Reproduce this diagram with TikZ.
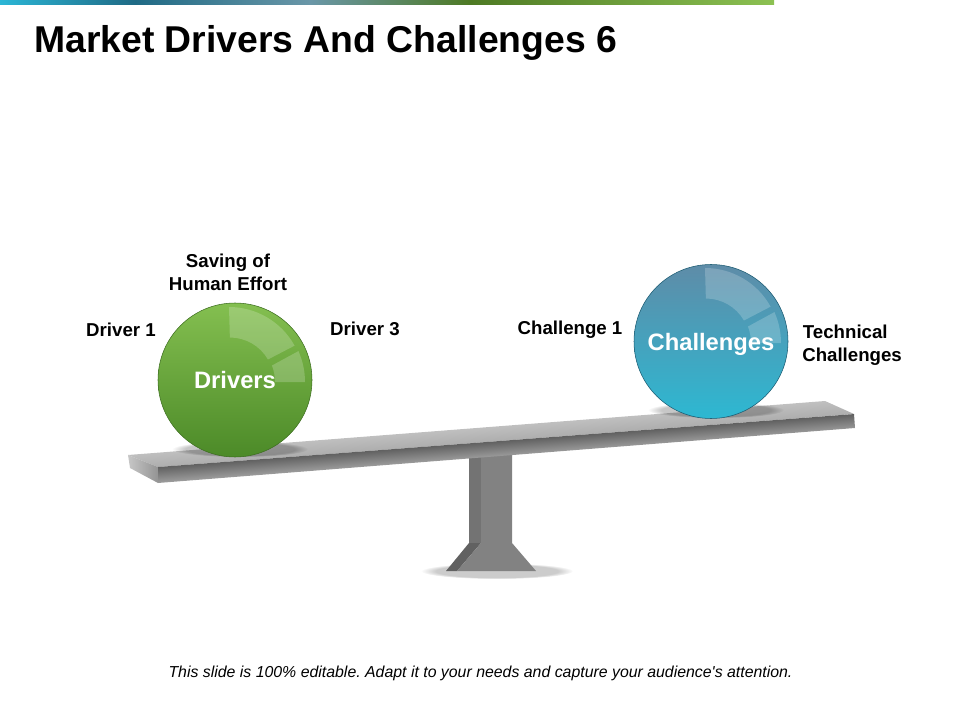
\documentclass[tikz,border=0pt]{standalone}
\usepackage{fontspec}
\setmainfont{Liberation Sans}
\usetikzlibrary{fadings}
\definecolor{barcyan}{HTML}{2BB6D6}
\definecolor{barteal}{HTML}{1F6A85}
\definecolor{bargray}{HTML}{6A97A8}
\definecolor{barmoss}{HTML}{4E7A24}
\definecolor{barlime}{HTML}{8CC152}
\definecolor{greentop}{HTML}{84BF50}
\definecolor{greenlow}{HTML}{4C8A28}
\definecolor{bluetop}{HTML}{5E8CA8}
\definecolor{bluelow}{HTML}{2DB8D2}
\tikzset{
  label/.style={font=\bfseries\fontsize{14}{17}\selectfont, align=center, inner sep=0pt},
  ball/.style={circle, minimum size=115.5pt, inner sep=0pt, text=white, text depth=0pt, font=\bfseries\fontsize{17.8}{20}\selectfont},
  glint/.style={fill=white, fill opacity=.2},
  blur/.style={fill=black, path fading=circle with fuzzy edge 20 percent}
}
\frenchspacing
\begin{document}
\begin{tikzpicture}[x=.75pt, y=-.75pt]
        \useasboundingbox (0,0) rectangle (960,720);
        \shade[left color=barcyan, right color=barteal] (0,0) rectangle (135,5);
        \shade[left color=barteal, right color=bargray] (135,0) rectangle (310,5);
        \shade[left color=bargray, right color=barmoss] (310,0) rectangle (470,5);
        \shade[left color=barmoss, right color=barlime] (470,0) rectangle (774,5);
        \node[anchor=base west, inner sep=0pt, font=\bfseries\fontsize{28}{32}\selectfont] (title) at (34,53) {Market Drivers And Challenges 6};
        % stand
        \fill[blur, opacity=.2] (497,571) ellipse [x radius=76, y radius=8];
        \fill[black!62] (469,450) -- (481,450) -- (481,543) -- (457,571) -- (446,571) -- (469,543) -- cycle;
        \fill[black!55] (469,450) -- (481,450) -- (481,543) -- (469,543) -- cycle;
        \fill[black!49] (481,450) -- (512,450) -- (512,543) -- (536,571) -- (457,571) -- (481,543) -- cycle;
        % plank
        \begin{scope}
          \clip (128,455) -- (825,401) -- (854,414) -- (158,467) -- cycle;
          \shade[transform canvas={rotate around={4.35:(158,467)}}, top color=black!24, bottom color=black!32] (100,450) rectangle (880,467);
        \end{scope}
        \begin{scope}
          \clip (158,467) -- (854,414) -- (855,428) -- (158,483) -- cycle;
          \shade[transform canvas={rotate around={4.35:(158,467)}}, top color=black!62, bottom color=black!38] (100,467) rectangle (880,483);
        \end{scope}
        \shade[left color=black!22, right color=black!42] (128,455) -- (158,467) -- (158,483) -- (130,468) -- cycle;
        \fill[blur, opacity=.22] (240,449) ellipse [x radius=68, y radius=8];
        \fill[blur, opacity=.22] (716,410) ellipse [x radius=68, y radius=8];
        % balls
        \node[ball, draw=greenlow!80!black, shading angle=25, top color=greentop, bottom color=greenlow] (drivers) at (235,380) {Drivers};
        \node[ball, draw=barteal!85!black, shading angle=35, top color=bluetop, bottom color=bluelow] (challenges) at (711,341.5) {Challenges};
        \coordinate (arcd) at (229,382);
        \coordinate (arcc) at (705,343);
        \foreach \c in {arcd,arcc} {
          \fill[glint] ([shift={(-90:75)}]\c) arc[start angle=-90, end angle=-29, radius=75] -- ([shift={(-30:45)}]\c) arc[start angle=-30, end angle=-90, radius=44] -- cycle;
          \fill[glint] ([shift={(-24:76)}]\c) arc[start angle=-24, end angle=0, radius=76] -- ([shift={(0:46)}]\c) arc[start angle=0, end angle=-21, radius=46] -- cycle;
        }
        % labels
        \node[label] (saving) at (228,272.5) {Saving of\\Human Effort};
        \node[label] (driver1) at (121,329.5) {Driver 1};
        \node[label] (driver3) at (365,328.5) {Driver 3};
        \node[label] (challenge1) at (570,330) {Challenge 1};
        \node[label, align=left, anchor=west] (technical) at (802,345.5) {\hspace{.5pt}Technical\\Challenges};
        \node[inner sep=0pt, font=\itshape\fontsize{11.9}{14}\selectfont] (footer) at (480.5,673) {This slide is 100\% editable. Adapt it to your needs and capture your audience\textquotesingle s attention.};
      \end{tikzpicture}
\end{document}
